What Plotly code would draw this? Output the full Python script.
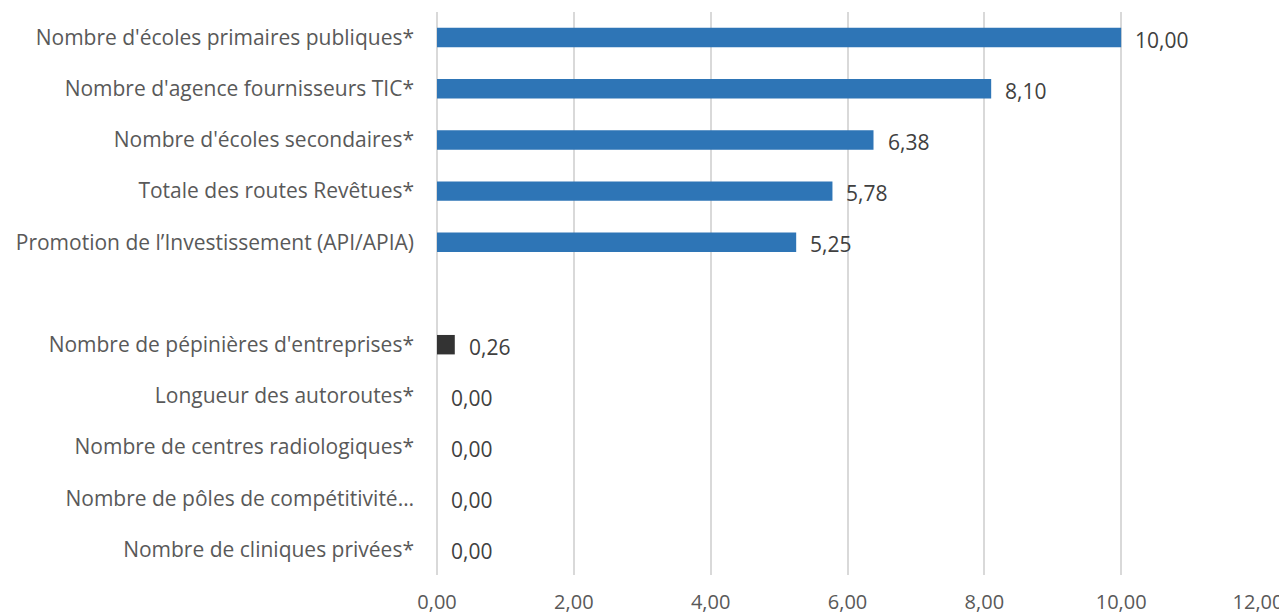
import plotly.graph_objects as go

categories = [
    "Nombre d'écoles primaires publiques*",
    "Nombre d'agence fournisseurs TIC*",
    "Nombre d'écoles secondaires*",
    "Totale des routes Revêtues*",
    "Promotion de l’Investissement (API/APIA)",
    " ",
    "Nombre de pépinières d'entreprises*",
    "Longueur des autoroutes*",
    "Nombre de centres radiologiques*",
    "Nombre de pôles de compétitivité…",
    "Nombre de cliniques privées*",
]
values = [10.00, 8.10, 6.38, 5.78, 5.25, None, 0.26, 0.00, 0.00, 0.00, 0.00]
colors = ["#2E75B6"] * 5 + ["#2E75B6"] + ["#333333"] * 5
x_ticks = [0, 2, 4, 6, 8, 10, 12]
x_tick_labels = ["0,00", "2,00", "4,00", "6,00", "8,00", "10,00", "12,00"]

FS = 21

fig = go.Figure()
fig.add_trace(go.Bar(
    y=categories,
    x=[v if v is not None else 0 for v in values],
    orientation="h",
    marker=dict(color=colors, line=dict(width=0)),
    hoverinfo="skip",
))

for c, v in zip(categories, values):
    if v is None:
        continue
    fig.add_annotation(
        x=v, y=c, text=f"{v:.2f}".replace(".", ","),
        showarrow=False, xanchor="left", xshift=12, yshift=-2,
        font=dict(family="Open Sans", size=FS, color="#404040"),
    )

# page body has an 8px margin: compensate so plot lands where the reference has it
fig.update_layout(
    width=1279, height=608,
    margin=dict(l=429, r=29, t=4, b=41),
    paper_bgcolor="white", plot_bgcolor="white",
    bargap=0.62,
    showlegend=False,
    font=dict(family="Open Sans", size=FS, color="#595959"),
)
fig.update_xaxes(
    range=[0, 12], tickvals=x_ticks, ticktext=x_tick_labels,
    showgrid=True, gridcolor="#D9D9D9", gridwidth=1.5,
    zeroline=True, zerolinecolor="#D9D9D9", zerolinewidth=1.5,
    showline=False, ticks="", ticklabelstandoff=13, automargin=False,
    tickfont=dict(size=20, color="#595959"),
)
fig.update_yaxes(
    categoryorder="array", categoryarray=categories,
    autorange="reversed", showgrid=False, zeroline=False, showline=False,
    ticks="", ticklabelstandoff=22, automargin=False,
    tickfont=dict(size=FS, color="#595959"),
)

fig.write_html("out.html")
